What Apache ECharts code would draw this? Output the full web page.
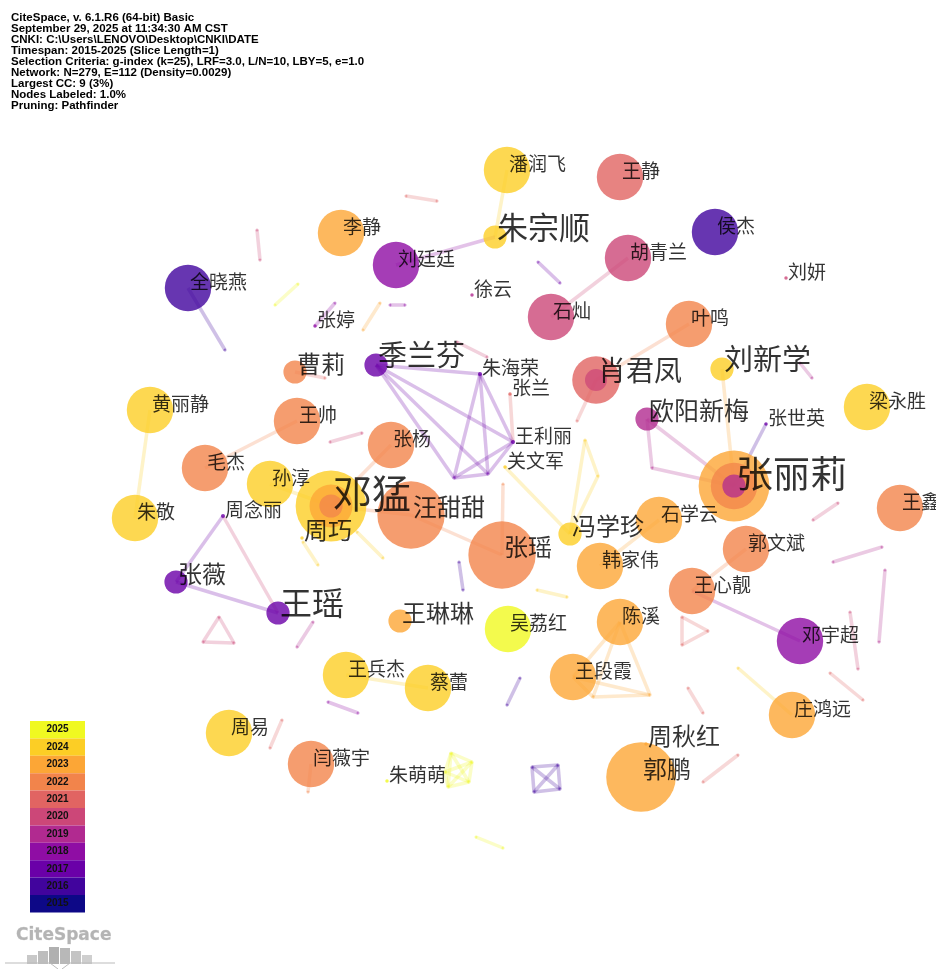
<!DOCTYPE html>
<html>
<head>
<meta charset="utf-8">
<title>CiteSpace 作者合作网络</title>
<script src="https://cdn.jsdelivr.net/npm/echarts@6/dist/echarts.min.js"></script>
<style>
html, body { margin: 0; padding: 0; background: #fff; }
#main { width: 936px; height: 969px; }
</style>
</head>
<body>
<div id="main"></div>
<script>
// 时间切片及配色
var years = [2015, 2016, 2017, 2018, 2019, 2020, 2021, 2022, 2023, 2024, 2025];
var yearColors = ['#0d0887', '#41049d', '#6a00a8', '#8f0da4', '#b12a90', '#cc4778',
                  '#e16462', '#f2844b', '#fca636', '#fcce25', '#f0f921'];

// 作者节点：名称, x, y, 频次, 年份
var authors = [
    ['潘润飞', 507, 170, 4, 2024], ['王静', 620, 177, 4, 2021], ['朱宗顺', 495, 237, 2, 2024],
    ['李静', 341, 233, 4, 2023], ['刘廷廷', 396, 265, 4, 2018], ['侯杰', 715, 232, 4, 2016],
    ['胡青兰', 628, 258, 4, 2020], ['刘妍', 786, 278, 0.3, 2020], ['全晓燕', 188, 288, 4, 2016],
    ['徐云', 472, 295, 0.3, 2019], ['石灿', 551, 317, 4, 2020], ['叶鸣', 689, 324, 4, 2022],
    ['张婷', 315, 326, 0.3, 2018], ['曹莉', 295, 372, 2, 2022], ['季兰芬', 376, 365, 2, 2017],
    ['朱海荣', 480, 374, 0.35, 2017], ['张兰', 510, 394, 0.3, 2021], ['肖君凤', 596, 380, 4.1, 2021],
    ['刘新学', 722, 369, 2, 2024], ['黄丽静', 150, 410, 4, 2024], ['梁永胜', 867, 407, 4, 2024],
    ['欧阳新梅', 647, 419, 2, 2019], ['张世英', 766, 424, 0.3, 2017], ['王帅', 297, 421, 4, 2022],
    ['张杨', 391, 445, 4, 2022], ['王利丽', 513, 442, 0.35, 2017], ['关文军', 505, 467, 0.3, 2024],
    ['毛杰', 205, 468, 4, 2022], ['孙淳', 270, 484, 4, 2024], ['张丽莉', 734, 486, 6.1, 2023],
    ['邓猛', 331, 506, 6.1, 2024], ['周巧', 302, 538, 0.3, 2024], ['汪甜甜', 411, 515, 5.8, 2022],
    ['朱敬', 135, 518, 4, 2024], ['周念丽', 223, 516, 0.35, 2017], ['张瑶', 502, 555, 5.8, 2022],
    ['冯学珍', 570, 534, 2, 2024], ['石学云', 659, 520, 4, 2023], ['郭文斌', 746, 549, 4, 2022],
    ['王鑫', 900, 508, 4, 2022], ['韩家伟', 600, 566, 4, 2023], ['张薇', 176, 582, 2, 2017],
    ['王心靓', 692, 591, 4, 2022], ['王瑶', 278, 613, 2, 2017], ['王琳琳', 400, 621, 2, 2023],
    ['吴荔红', 508, 629, 4, 2025], ['陈溪', 620, 622, 4, 2023], ['邓宇超', 800, 641, 4, 2018],
    ['王兵杰', 346, 675, 4, 2024], ['王段霞', 573, 677, 4, 2023], ['蔡蕾', 428, 688, 4, 2024],
    ['庄鸿远', 792, 715, 4, 2023], ['周易', 229, 733, 4, 2024], ['周秋红', 646, 744, 0.3, 2023],
    ['郭鹏', 641, 777, 6, 2023], ['闫薇宇', 311, 764, 4, 2022], ['朱萌萌', 387, 781, 0.3, 2025]
];

// 年轮内层：作者, 年份, 频次
var rings = [
    ['邓猛', 2023, 3.7], ['邓猛', 2022, 2],
    ['张丽莉', 2022, 4], ['张丽莉', 2019, 2],
    ['肖君凤', 2020, 1.9]
];

// 无标签的小节点：编号, x, y, 年份
var minor = [
    ['a1', 454, 478, 2017], ['a2', 488, 474, 2017],
    ['u1', 577, 421, 2021], ['u2', 652, 468, 2019], ['u3', 225, 350, 2016],
    ['u4', 585, 440, 2024], ['u5', 598, 476, 2024], ['u6', 503, 484, 2022],
    ['u7', 325, 378, 2021], ['u8', 330, 442, 2020], ['u9', 362, 433, 2020],
    ['u10', 457, 342, 2020], ['u11', 487, 357, 2020], ['u12', 406, 196, 2021],
    ['u13', 437, 201, 2021], ['u14', 257, 230, 2020], ['u15', 260, 260, 2020],
    ['u16', 275, 305, 2025], ['u17', 298, 284, 2025], ['u18', 335, 303, 2018],
    ['u19', 363, 330, 2023], ['u20', 380, 303, 2023], ['u21', 390, 305, 2018],
    ['u22', 405, 305, 2018], ['u23', 538, 262, 2017], ['u24', 560, 283, 2017],
    ['u25', 800, 363, 2019], ['u26', 812, 378, 2019],
    ['t1', 219, 617, 2020], ['t2', 203, 642, 2020], ['t3', 234, 643, 2020],
    ['u27', 313, 622, 2019], ['u28', 297, 647, 2019], ['u29', 459, 562, 2016],
    ['u30', 463, 590, 2016], ['u31', 328, 702, 2018], ['u32', 358, 713, 2018],
    ['u33', 282, 720, 2021], ['u34', 270, 748, 2021], ['u35', 308, 792, 2022],
    ['u36', 520, 678, 2016], ['u37', 507, 705, 2016], ['u38', 537, 590, 2024],
    ['u39', 567, 597, 2024], ['c1', 593, 697, 2023], ['c2', 650, 695, 2023],
    ['p1', 682, 617, 2021], ['p2', 708, 631, 2021], ['p3', 682, 645, 2021],
    ['u40', 688, 688, 2021], ['u41', 703, 713, 2021], ['u42', 738, 668, 2024],
    ['u43', 813, 520, 2020], ['u44', 838, 503, 2020], ['u45', 833, 562, 2019],
    ['u46', 882, 547, 2019], ['u47', 885, 570, 2019], ['u48', 879, 642, 2019],
    ['u49', 850, 612, 2020], ['u50', 858, 669, 2020], ['u51', 830, 673, 2021],
    ['u52', 863, 700, 2021], ['u53', 703, 782, 2021], ['u54', 738, 755, 2021],
    ['u55', 476, 837, 2025], ['u56', 503, 848, 2025],
    ['y1', 451, 753, 2025], ['y2', 472, 762, 2025], ['y3', 469, 782, 2025],
    ['y4', 448, 787, 2025], ['y5', 445, 772, 2025],
    ['s1', 532, 767, 2016], ['s2', 558, 765, 2016], ['s3', 560, 789, 2016], ['s4', 534, 792, 2016],
    ['u57', 303, 542, 2024], ['u58', 318, 565, 2024], ['u59', 357, 532, 2024], ['u60', 383, 558, 2024]
];

// 合作连线：起点, 终点, 年份
var links = [
    ['潘润飞', '朱宗顺', 2024], ['刘廷廷', '朱宗顺', 2018], ['胡青兰', '石灿', 2020],
    ['叶鸣', '肖君凤', 2022], ['肖君凤', 'u1', 2021], ['刘新学', '张丽莉', 2023],
    ['张世英', '张丽莉', 2016], ['欧阳新梅', '张丽莉', 2019], ['欧阳新梅', 'u2', 2019],
    ['u2', '张丽莉', 2019], ['全晓燕', 'u3', 2016],
    ['季兰芬', '朱海荣', 2017], ['季兰芬', '王利丽', 2017], ['季兰芬', 'a1', 2017],
    ['季兰芬', 'a2', 2017], ['朱海荣', '王利丽', 2017], ['朱海荣', 'a1', 2017],
    ['朱海荣', 'a2', 2017], ['王利丽', 'a1', 2017], ['王利丽', 'a2', 2017], ['a1', 'a2', 2017],
    ['张兰', '王利丽', 2021], ['关文军', '冯学珍', 2024], ['冯学珍', 'u4', 2024],
    ['u4', 'u5', 2024], ['u5', '冯学珍', 2024], ['张瑶', 'u6', 2022],
    ['汪甜甜', '张瑶', 2022], ['邓猛', '汪甜甜', 2022], ['张杨', '邓猛', 2022],
    ['孙淳', '邓猛', 2024], ['王帅', '毛杰', 2022], ['曹莉', 'u7', 2021],
    ['u8', 'u9', 2020], ['u10', 'u11', 2020], ['u12', 'u13', 2021], ['u14', 'u15', 2020],
    ['u16', 'u17', 2025], ['张婷', 'u18', 2018], ['u19', 'u20', 2023], ['u21', 'u22', 2018],
    ['u23', 'u24', 2017], ['u25', 'u26', 2019], ['黄丽静', '朱敬', 2024],
    ['周念丽', '张薇', 2017], ['周念丽', '王瑶', 2020], ['张薇', '王瑶', 2017],
    ['t1', 't2', 2020], ['t2', 't3', 2020], ['t3', 't1', 2020], ['u27', 'u28', 2019],
    ['u29', 'u30', 2016], ['王兵杰', '蔡蕾', 2024], ['u31', 'u32', 2018], ['u33', 'u34', 2021],
    ['闫薇宇', 'u35', 2022], ['u36', 'u37', 2016], ['u38', 'u39', 2024],
    ['陈溪', '王段霞', 2023], ['陈溪', 'c1', 2023], ['陈溪', 'c2', 2023],
    ['王段霞', 'c1', 2023], ['王段霞', 'c2', 2023], ['c1', 'c2', 2023],
    ['韩家伟', '石学云', 2023], ['p1', 'p2', 2021], ['p2', 'p3', 2021], ['p3', 'p1', 2021],
    ['王心靓', '郭文斌', 2022], ['王心靓', '邓宇超', 2018], ['u40', 'u41', 2021],
    ['u42', '庄鸿远', 2024], ['u43', 'u44', 2020], ['u45', 'u46', 2019], ['u47', 'u48', 2019],
    ['u49', 'u50', 2020], ['u51', 'u52', 2021], ['u53', 'u54', 2021], ['u55', 'u56', 2025],
    ['y1', 'y2', 2025], ['y1', 'y3', 2025], ['y1', 'y4', 2025], ['y1', 'y5', 2025],
    ['y2', 'y3', 2025], ['y2', 'y4', 2025], ['y2', 'y5', 2025], ['y3', 'y4', 2025],
    ['y3', 'y5', 2025], ['y4', 'y5', 2025],
    ['s1', 's2', 2016], ['s2', 's3', 2016], ['s3', 's4', 2016], ['s4', 's1', 2016],
    ['s1', 's3', 2016], ['s2', 's4', 2016],
    ['u57', 'u58', 2024], ['u59', 'u60', 2024]
];

// 标签字号（其余默认）
var labelSize = {
    '邓猛': 39, '张丽莉': 37, '王瑶': 32, '朱宗顺': 31, '肖君凤': 28, '刘新学': 29, '季兰芬': 29,
    '欧阳新梅': 25, '张薇': 24, '曹莉': 24, '冯学珍': 24, '汪甜甜': 24, '张瑶': 24, '周巧': 24,
    '周秋红': 24, '郭鹏': 24, '王琳琳': 24
};

var headerLines = [
    'CiteSpace, v. 6.1.R6 (64-bit) Basic',
    'September 29, 2025 at 11:34:30 AM CST',
    'CNKI: C:\\Users\\LENOVO\\Desktop\\CNKI\\DATE',
    'Timespan: 2015-2025 (Slice Length=1)',
    'Selection Criteria: g-index (k=25), LRF=3.0, L/N=10, LBY=5, e=1.0',
    'Network: N=279, E=112 (Density=0.0029)',
    'Largest CC: 9 (3%)',
    'Nodes Labeled: 1.0%',
    'Pruning: Pathfinder'
];

function colorOf(y) {
    return yearColors[years.indexOf(y)];
}
function sizeOf(f) {
    return f * 11.6;
}

var pos = {};
authors.forEach(function (a) { pos[a[0]] = [a[1], a[2]]; });

var nodes = [];
authors.forEach(function (a) {
    nodes.push({
        name: a[0],
        value: [a[1], a[2]],
        symbolSize: Math.max(sizeOf(a[3]), 3),
        itemStyle: {color: colorOf(a[4]), opacity: 0.8}
    });
});
minor.forEach(function (m) {
    nodes.push({
        name: m[0],
        value: [m[1], m[2]],
        symbolSize: 3,
        itemStyle: {color: colorOf(m[3]), opacity: 0.45}
    });
});

var edges = links.map(function (l) {
    return {
        source: l[0],
        target: l[1],
        lineStyle: {color: colorOf(l[2]), opacity: 0.25, width: 3.5}
    };
});

var ringData = rings.map(function (r) {
    return {
        value: pos[r[0]],
        symbolSize: sizeOf(r[2]),
        itemStyle: {color: colorOf(r[1]), opacity: 0.75}
    };
});

var labelData = authors.map(function (a) {
    var fs = labelSize[a[0]] || 19;
    return {
        name: a[0],
        value: [a[1] + 2, a[2] - fs * 0.33],
        label: {fontSize: fs}
    };
});

// 图例色条
var legend = [];
var cellH = 17.4;
years.slice().reverse().forEach(function (y, i) {
    legend.push({
        type: 'rect',
        shape: {x: 30, y: 721 + i * cellH, width: 55, height: cellH},
        style: {fill: colorOf(y)},
        silent: true
    });
    legend.push({
        type: 'text',
        x: 57.5, y: 721 + i * cellH + cellH / 2,
        style: {
            text: String(y), fill: '#111', fontSize: 10, fontWeight: 'bold',
            fontFamily: 'Liberation Sans', align: 'center', verticalAlign: 'middle'
        },
        silent: true
    });
});

// CiteSpace 标志
var logo = [
    {type: 'text', x: 16, y: 927, style: {text: 'CiteSpace', fill: '#b4b4b4', fontSize: 17,
        fontWeight: 'bold', fontFamily: 'DejaVu Sans', stroke: '#dcdcdc', lineWidth: 0.5}},
    {type: 'rect', shape: {x: 27, y: 955, width: 10, height: 9}, style: {fill: '#c8c8c8'}},
    {type: 'rect', shape: {x: 38, y: 951, width: 10, height: 13}, style: {fill: '#bdbdbd'}},
    {type: 'rect', shape: {x: 49, y: 947, width: 10, height: 17}, style: {fill: '#b0b0b0'}},
    {type: 'rect', shape: {x: 60, y: 948, width: 10, height: 16}, style: {fill: '#b8b8b8'}},
    {type: 'rect', shape: {x: 71, y: 951, width: 10, height: 13}, style: {fill: '#c4c4c4'}},
    {type: 'rect', shape: {x: 82, y: 955, width: 10, height: 9}, style: {fill: '#cfcfcf'}},
    {type: 'polyline', shape: {points: [[5, 963], [50, 963], [58, 969]]}, style: {stroke: '#bbb', lineWidth: 1, fill: null}},
    {type: 'polyline', shape: {points: [[115, 963], [70, 963], [62, 969]]}, style: {stroke: '#bbb', lineWidth: 1, fill: null}}
];

var chart = echarts.init(document.getElementById('main'));

var option = {
    backgroundColor: '#fff',
    animation: false,
    grid: {left: 0, right: 0, top: 0, bottom: 0},
    xAxis: {type: 'value', min: 0, max: 936, show: false},
    yAxis: {type: 'value', min: 0, max: 969, inverse: true, show: false},
    graphic: [
        {
            type: 'text', x: 11, y: 12,
            style: {
                text: headerLines.join('\n'), fill: '#000', fontSize: 11.5, fontWeight: 'bold',
                fontFamily: 'Liberation Sans', lineHeight: 11, verticalAlign: 'top'
            },
            silent: true
        }
    ].concat(legend, logo),
    series: [
        {
            type: 'graph',
            layout: 'none',
            coordinateSystem: 'cartesian2d',
            symbol: 'circle',
            data: nodes,
            links: edges,
            label: {show: false},
            emphasis: {disabled: true},
            z: 2
        },
        {
            type: 'scatter',
            symbol: 'circle',
            data: ringData,
            silent: true,
            z: 3
        },
        {
            type: 'scatter',
            symbolSize: 0,
            data: labelData,
            silent: true,
            label: {
                show: true,
                position: 'right',
                distance: 0,
                formatter: '{b}',
                color: '#000',
                fontFamily: 'Noto Sans CJK SC'
            },
            z: 5
        }
    ]
};

chart.setOption(option);
</script>
</body>
</html>
